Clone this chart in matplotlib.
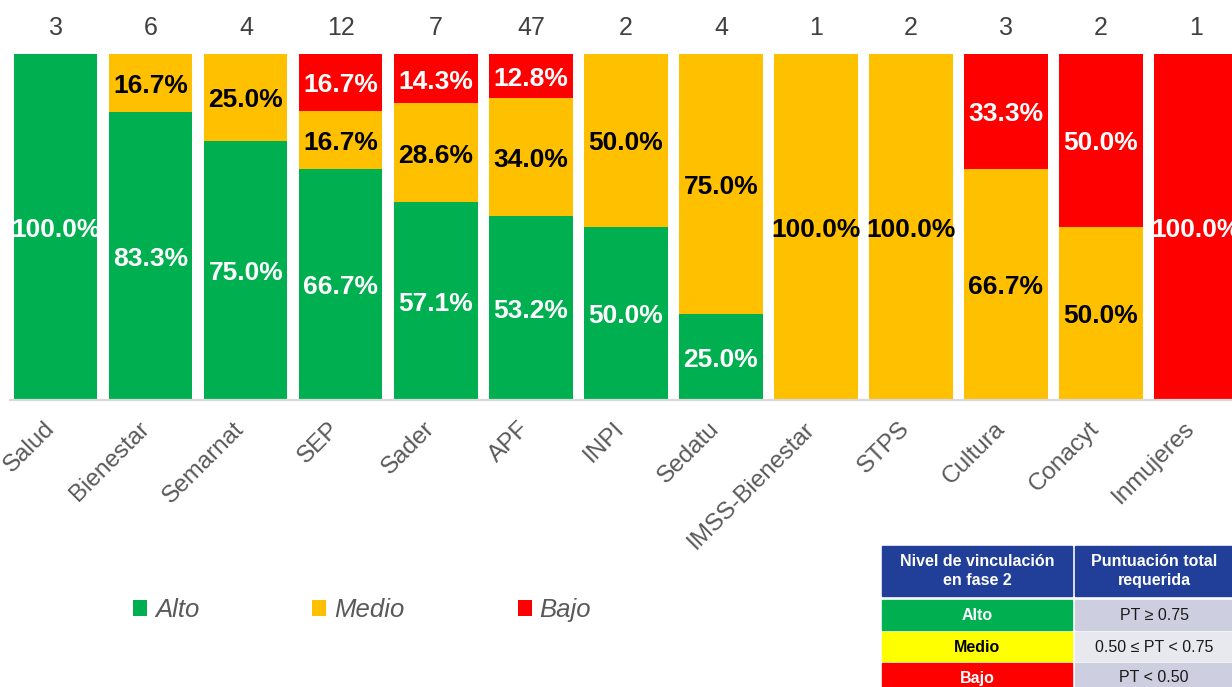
import matplotlib.pyplot as plt
from matplotlib.patches import Rectangle
from matplotlib.transforms import ScaledTranslation
import numpy as np

plt.rcParams['font.family'] = ['Liberation Sans', 'DejaVu Sans']

categorias = ['Salud', 'Bienestar', 'Semarnat', 'SEP', 'Sader', 'APF', 'INPI',
              'Sedatu', 'IMSS-Bienestar', 'STPS', 'Cultura', 'Conacyt', 'Inmujeres']
totales = [3, 6, 4, 12, 7, 47, 2, 4, 1, 2, 3, 2, 1]
alto = [100.0, 83.3, 75.0, 66.7, 57.1, 53.2, 50.0, 25.0, 0, 0, 0, 0, 0]
medio = [0, 16.7, 25.0, 16.7, 28.6, 34.0, 50.0, 75.0, 100.0, 100.0, 66.7, 50.0, 0]
bajo = [0, 0, 0, 16.7, 14.3, 12.8, 0, 0, 0, 0, 33.3, 50.0, 100.0]

niveles = ['Alto', 'Medio', 'Bajo']
colores = ['#00B050', '#FFC000', '#FF0000']
color_texto = ['white', 'black', 'white']

tabla_encabezado = ['Nivel de vinculación\nen fase 2', 'Puntuación total\nrequerida']
tabla_niveles = ['Alto', 'Medio', 'Bajo']
tabla_rangos = ['PT ≥ 0.75', '0.50 ≤ PT < 0.75', 'PT < 0.50']

W, H = 1232, 687
fig = plt.figure(figsize=(W / 100, H / 100), dpi=100)

# axes placed in pixel terms of the reference
ax = fig.add_axes([10 / W, (H - 400) / H, (W - 10) / W, 346 / H])
x = np.arange(len(categorias))
ancho = 0.874

base = np.zeros(len(categorias))
barras = []
for serie, col, tc in zip([alto, medio, bajo], colores, color_texto):
    vals = np.array(serie) / 100.0
    b = ax.bar(x, vals, ancho, bottom=base, color=col, linewidth=0)
    barras.append(b)
    for xi, v, b0 in zip(x, vals, base):
        if v > 0:
            ax.text(xi, b0 + v / 2 - 0.008, f'{v * 100:.1f}%', ha='center', va='center',
                    fontsize=19, fontweight='bold', color=tc)
    base = base + vals

for xi, n in zip(x, totales):
    ax.text(xi, 1.075, str(n), ha='center', va='center', fontsize=18,
            color='#404040', clip_on=False)

ax.set_xlim(-0.484, 12.379)
ax.set_ylim(0, 1)
ax.set_yticks([])
ax.set_xticks(x)
ax.set_xticklabels(categorias, rotation=45, ha='right', fontsize=17.5, color='#595959')
ax.tick_params(axis='x', length=0, pad=12)
desplaza = ScaledTranslation(3 / 100, -1 / 100, fig.dpi_scale_trans)
for lab in ax.get_xticklabels():
    lab.set_transform(lab.get_transform() + desplaza)
for s in ['top', 'left', 'right']:
    ax.spines[s].set_visible(False)
ax.spines['bottom'].set_color('#D9D9D9')
ax.spines['bottom'].set_linewidth(1.6)

leg = fig.legend(barras, niveles, loc='center', bbox_to_anchor=(362 / W, 1 - 610 / H),
                 ncol=3, frameon=False, handlelength=0.55, handleheight=0.55,
                 handletextpad=0.3, columnspacing=4.4,
                 prop={'size': 18.5, 'style': 'italic'}, labelcolor='#595959')

# reference table at bottom right
tx = fig.add_axes([0, 0, 1, 1])
tx.set_xlim(0, W)
tx.set_ylim(H, 0)
tx.axis('off')
azul = '#213F99'
tx.add_patch(Rectangle((882, 546), 190, 50, color=azul))
tx.add_patch(Rectangle((1075, 546), 160, 50, color=azul))
tx.text(977, 571, tabla_encabezado[0], ha='center', va='center', color='white',
        fontsize=11.5, fontweight='bold', linespacing=1.3)
tx.text(1154, 571, tabla_encabezado[1], ha='center', va='center', color='white',
        fontsize=11.5, fontweight='bold', linespacing=1.3)
filas_y = [(600, 30), (632, 29), (663, 26)]
fondo_nivel = ['#00B050', '#FFFF00', '#FF0000']
texto_nivel = ['white', 'black', 'white']
fondo_rango = ['#CDCEDF', '#E8E8EF', '#CDCEDF']
for i, (y0, h) in enumerate(filas_y):
    tx.add_patch(Rectangle((882, y0), 190, h, color=fondo_nivel[i]))
    tx.add_patch(Rectangle((1075, y0), 160, h, color=fondo_rango[i]))
    yc = y0 + 15
    tx.text(977, yc, tabla_niveles[i], ha='center', va='center', color=texto_nivel[i],
            fontsize=11.5, fontweight='bold')
    tx.text(1154, yc, tabla_rangos[i], ha='center', va='center', color='#1a1a1a',
            fontsize=11.5)

fig.savefig('out.png', dpi=100)
